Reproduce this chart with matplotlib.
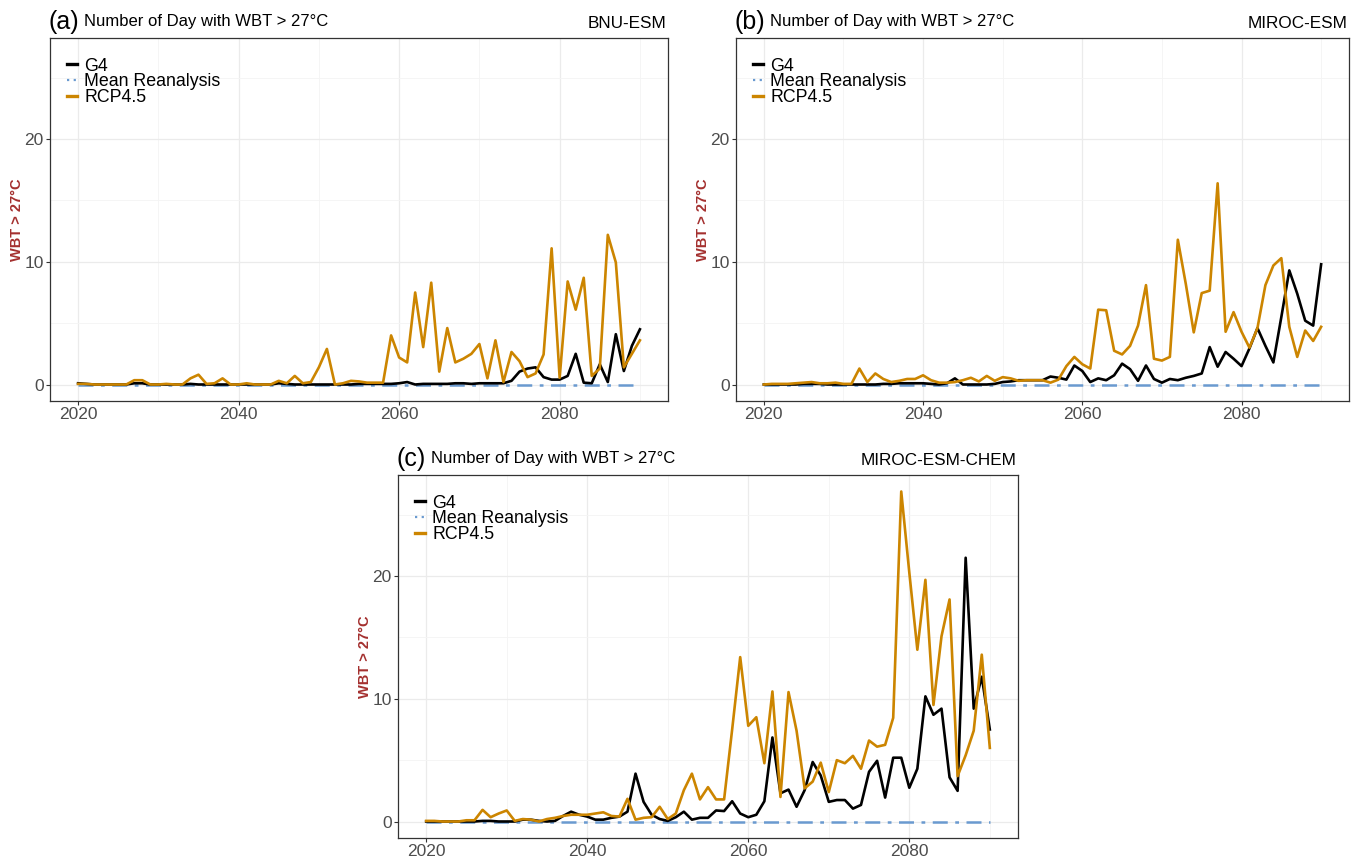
import matplotlib
matplotlib.use("Agg")
import matplotlib.pyplot as plt
from matplotlib.ticker import FixedLocator
from matplotlib.lines import Line2D

years = list(range(2020, 2091))

bnu_g4 = [0.1, 0.05, 0.0, 0.0, 0.0, 0.0, 0.0, 0.1, 0.1, 0.0,
          0.0, 0.0, 0.0, 0.0, 0.05, 0.0, 0.0, 0.0, 0.0, 0.0,
          0.0, 0.0, 0.0, 0.0, 0.0, 0.1, 0.05, 0.0, 0.0, 0.0,
          0.0, 0.0, 0.0, 0.0, 0.0, 0.05, 0.05, 0.05, 0.05, 0.05,
          0.1, 0.2, 0.0, 0.05, 0.05, 0.05, 0.05, 0.1, 0.1, 0.05,
          0.1, 0.1, 0.1, 0.1, 0.3, 1.05, 1.3, 1.4, 0.6, 0.4,
          0.4, 0.7, 2.5, 0.15, 0.1, 1.65, 0.2, 4.1, 1.1, 3.15, 4.5]
bnu_rcp = [0.05, 0.05, 0.0, 0.0, 0.0, 0.0, 0.0, 0.35, 0.35, 0.0,
           0.0, 0.05, 0.0, 0.0, 0.5, 0.8, 0.05, 0.1, 0.5, 0.0,
           0.0, 0.1, 0.0, 0.0, 0.0, 0.3, 0.1, 0.7, 0.1, 0.2,
           1.4, 2.9, 0.0, 0.1, 0.3, 0.25, 0.15, 0.15, 0.15, 4.0,
           2.2, 1.8, 7.5, 3.05, 8.3, 1.05, 4.6, 1.8, 2.1, 2.5,
           3.3, 0.5, 3.6, 0.2, 2.65, 1.9, 0.6, 0.9, 2.45, 11.1,
           0.55, 8.4, 6.1, 8.7, 0.7, 1.3, 12.2, 9.95, 1.4, 2.5, 3.6]

miroc_g4 = [0.0, 0.0, 0.0, 0.0, 0.0, 0.05, 0.05, 0.05, 0.0, 0.0,
            0.0, 0.0, 0.0, 0.0, 0.0, 0.05, 0.05, 0.1, 0.1, 0.1,
            0.1, 0.05, 0.0, 0.1, 0.5, 0.0, 0.0, 0.0, 0.0, 0.05,
            0.2, 0.25, 0.35, 0.35, 0.35, 0.35, 0.65, 0.55, 0.4, 1.55,
            1.1, 0.2, 0.5, 0.35, 0.75, 1.7, 1.25, 0.3, 1.55, 0.45,
            0.15, 0.45, 0.35, 0.55, 0.7, 0.9, 3.05, 1.45, 2.65, 2.1,
            1.5, 2.95, 4.6, 3.15, 1.8, 5.5, 9.3, 7.4, 5.2, 4.8, 9.8]
miroc_rcp = [0.0, 0.05, 0.05, 0.05, 0.1, 0.15, 0.2, 0.1, 0.1, 0.15,
             0.05, 0.05, 1.3, 0.2, 0.9, 0.45, 0.2, 0.3, 0.45, 0.45,
             0.75, 0.35, 0.15, 0.15, 0.2, 0.35, 0.55, 0.25, 0.7, 0.3,
             0.6, 0.5, 0.3, 0.35, 0.35, 0.35, 0.15, 0.4, 1.5, 2.25,
             1.65, 1.3, 6.1, 6.05, 2.75, 2.45, 3.15, 4.8, 8.1, 2.1,
             1.95, 2.25, 11.8, 8.2, 4.25, 7.45, 7.65, 16.4, 4.3, 5.9,
             4.3, 3.0, 4.6, 8.1, 9.7, 10.3, 4.7, 2.25, 4.4, 3.55, 4.7]

chem_g4 = [0.0, 0.0, 0.0, 0.0, 0.0, 0.0, 0.0, 0.05, 0.05, 0.0,
           0.0, 0.0, 0.15, 0.15, 0.05, 0.0, 0.05, 0.45, 0.8, 0.55,
           0.4, 0.15, 0.15, 0.3, 0.4, 0.8, 3.9, 1.6, 0.55, 0.2,
           0.05, 0.35, 0.8, 0.15, 0.3, 0.3, 0.9, 0.85, 1.65, 0.65,
           0.35, 0.55, 1.65, 6.85, 2.3, 2.6, 1.2, 2.55, 4.85, 3.75,
           1.6, 1.75, 1.75, 1.05, 1.35, 4.05, 4.95, 1.95, 5.2, 5.2,
           2.75, 4.3, 10.2, 8.7, 9.2, 3.6, 2.5, 21.5, 9.2, 11.8, 7.5]
chem_rcp = [0.05, 0.05, 0.0, 0.0, 0.0, 0.1, 0.1, 0.95, 0.35, 0.65,
            0.9, 0.05, 0.2, 0.15, 0.0, 0.2, 0.3, 0.45, 0.55, 0.55,
            0.55, 0.65, 0.75, 0.45, 0.4, 1.85, 0.15, 0.3, 0.35, 1.2,
            0.2, 0.65, 2.55, 3.9, 1.8, 2.8, 1.8, 1.8, 7.5, 13.4,
            7.8, 8.5, 4.75, 10.6, 2.0, 10.55, 7.4, 2.7, 3.25, 4.8,
            2.4, 5.0, 4.75, 5.35, 4.3, 6.6, 6.1, 6.25, 8.45, 26.9,
            20.3, 14.0, 19.7, 9.5, 15.1, 18.1, 3.7, 5.4, 7.4, 13.6, 6.0]

mean_reanalysis = [0.0] * len(years)

panel_tags = ["(a)", "(b)", "(c)"]
model_names = ["BNU-ESM", "MIROC-ESM", "MIROC-ESM-CHEM"]
subtitle = "Number of Day with WBT > 27\u00b0C"
ylabel = "WBT > 27\u00b0C"
series_labels = ["G4", "Mean Reanalysis", "RCP4.5"]
x_ticks = [2020, 2040, 2060, 2080]
x_minor = [2030, 2050, 2070, 2090]
y_ticks = [0, 10, 20]
y_minor = [5, 15, 25]

C_G4 = "#000000"
C_REA = "#6A9AD0"
C_RCP = "#CC8500"

plt.rcParams["font.family"] = ["Liberation Sans", "DejaVu Sans"]

fig = plt.figure(figsize=(13.53, 8.60), dpi=100)

W, H = 1353.0, 860.0
boxes = [(50, 38, 668, 401), (736, 38, 1349, 401), (398, 475, 1018, 838)]
data = [(bnu_g4, bnu_rcp), (miroc_g4, miroc_rcp), (chem_g4, chem_rcp)]

ymax_data = max(max(bnu_rcp), max(miroc_rcp), max(chem_rcp), max(chem_g4))
ypad = 0.05 * ymax_data
xpad = 0.05 * (years[-1] - years[0])

for i, ((l, t, r, b), (g4, rcp)) in enumerate(zip(boxes, data)):
    ax = fig.add_axes([l / W, 1 - b / H, (r - l) / W, (b - t) / H])
    ax.plot(years, g4, color=C_G4, lw=1.9, zorder=3)
    ax.plot(years, mean_reanalysis, color=C_REA, lw=1.8, ls=(0, (6, 3, 1.5, 3)), zorder=2)
    ax.plot(years, rcp, color=C_RCP, lw=1.9, zorder=4)
    ax.set_xlim(years[0] - xpad, years[-1] + xpad)
    ax.set_ylim(-ypad, ymax_data + ypad)
    ax.xaxis.set_major_locator(FixedLocator(x_ticks))
    ax.xaxis.set_minor_locator(FixedLocator(x_minor))
    ax.yaxis.set_major_locator(FixedLocator(y_ticks))
    ax.yaxis.set_minor_locator(FixedLocator(y_minor))
    ax.grid(which="major", color="#EBEBEB", lw=0.9)
    ax.grid(which="minor", color="#F4F4F4", lw=0.6)
    ax.set_axisbelow(True)
    for s in ax.spines.values():
        s.set_color("#333333")
        s.set_linewidth(0.9)
    ax.tick_params(which="major", length=3, width=0.8, color="#333333",
                   labelsize=12.5, labelcolor="#4D4D4D", pad=1.5)
    ax.tick_params(which="minor", length=0)
    ax.set_ylabel(ylabel, color="#A4302F", fontsize=10.5, fontweight="bold", labelpad=0)
    tag = ax.text(-0.003, 1.012, panel_tags[i], transform=ax.transAxes,
                  ha="left", va="bottom", fontsize=18, color="black")
    ax.annotate(subtitle, xy=(1, 0), xycoords=tag, xytext=(4, 3), textcoords="offset points",
                ha="left", va="bottom", fontsize=12, color="black")
    ax.text(0.997, 1.018, model_names[i], transform=ax.transAxes,
            ha="right", va="bottom", fontsize=12.3, color="black")
    handles = [Line2D([], [], color=C_G4, lw=2.4),
               Line2D([], [], color=C_REA, lw=1.6, ls=(0, (1, 2))),
               Line2D([], [], color=C_RCP, lw=2.4)]
    ax.legend(handles, series_labels, loc="upper left", bbox_to_anchor=(0.008, 0.98),
              frameon=False, fontsize=12.8, handlelength=0.55, handletextpad=0.4,
              labelspacing=-0.08, borderaxespad=0.3)

fig.savefig("out.png", dpi=100)
